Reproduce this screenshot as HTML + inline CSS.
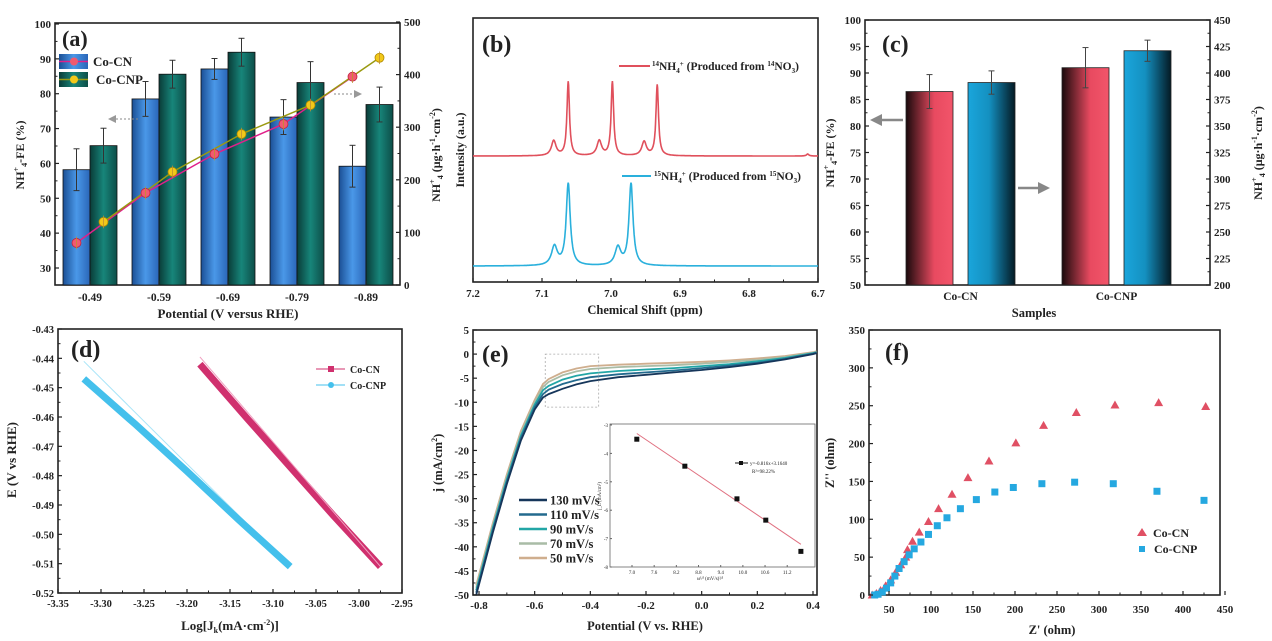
<!DOCTYPE html>
<html><head><meta charset="utf-8"><style>
html,body{margin:0;padding:0;background:#fff}
svg{display:block;font-family:"Liberation Serif",serif;font-weight:bold}
</style></head><body>
<svg id="fig" width="1272" height="641" viewBox="0 0 1272 641" xmlns="http://www.w3.org/2000/svg">
<defs>
<linearGradient id="gBlue" x1="0" x2="1"><stop offset="0" stop-color="#1b4f95"/><stop offset="0.5" stop-color="#4a98e8"/><stop offset="1" stop-color="#2a66b8"/></linearGradient>
<linearGradient id="gTeal" x1="0" x2="1"><stop offset="0" stop-color="#0a3c38"/><stop offset="0.5" stop-color="#17857a"/><stop offset="1" stop-color="#0d4e48"/></linearGradient>
<linearGradient id="gRed" x1="0" x2="1"><stop offset="0" stop-color="#1a0a0c"/><stop offset="0.6" stop-color="#e84a60"/><stop offset="1" stop-color="#f2556a"/></linearGradient>
<linearGradient id="gCyan" x1="0" x2="1"><stop offset="0" stop-color="#1aa6dc"/><stop offset="0.45" stop-color="#1490c0"/><stop offset="1" stop-color="#041a24"/></linearGradient>
</defs>
</svg>
<script>
// ---------- data ----------
const aCats=['-0.49','-0.59','-0.69','-0.79','-0.89'];
const aFeCN=[58.2,78.5,87.1,73.3,59.2];
const aFeCNerr=[6,5,3,5,6];
const aFeCNP=[65.1,85.6,91.9,83.2,76.9];
const aFeCNPerr=[5,4,4,6,5];
const aYieldCN=[80,175,249,306,396];
const aYieldCNP=[120,215,287,342,432];
const aLeftTicks=[30,40,50,60,70,80,90,100];
const aRightTicks=[0,100,200,300,400,500];

const bRedPeaks=[[7.062,74,0.0022],[6.998,74,0.0022],[6.933,71,0.0022],[7.083,15,0.004],[7.017,15,0.004],[6.952,14,0.004],[6.715,2,0.002]];
const bBluePeaks=[[7.062,82,0.0035],[6.971,82,0.0035],[7.082,19,0.005],[6.990,18,0.005]];
const bTicks=[7.2,7.1,7.0,6.9,6.8,6.7];

const cCats=['Co-CN','Co-CNP'];
const cFE=[86.5,91.0];
const cFEerr=[3.2,3.8];
const cYield=[391,421];
const cYieldErr=[11,10];
const cLeftTicks=[50,55,60,65,70,75,80,85,90,95,100];
const cRightTicks=[200,225,250,275,300,325,350,375,400,425,450];

const dCNx=[-3.185,-3.13,-3.08,-3.03,-2.975];
const dCNy=[-0.442,-0.4605,-0.477,-0.4935,-0.511];
const dCNPx=[-3.32,-3.26,-3.2,-3.14,-3.08];
const dCNPy=[-0.447,-0.4625,-0.4785,-0.495,-0.511];
const dXTicks=[-3.35,-3.30,-3.25,-3.20,-3.15,-3.10,-3.05,-3.00,-2.95];
const dYTicks=[-0.43,-0.44,-0.45,-0.46,-0.47,-0.48,-0.49,-0.50,-0.51,-0.52];

const ePot=[-0.81,-0.75,-0.7,-0.65,-0.6,-0.57,-0.55,-0.5,-0.45,-0.4,-0.3,-0.2,-0.1,0,0.1,0.2,0.3,0.4,0.413];
const eJ130=[-50,-37,-27,-18,-11.5,-9,-8.3,-7.2,-6.3,-5.6,-4.8,-4.3,-3.8,-3.3,-2.7,-2.0,-1.1,0,0.2];
const eJ110=[-49.5,-36.5,-26.5,-17.5,-11,-8.3,-7.4,-6.2,-5.4,-4.8,-4.2,-3.8,-3.4,-2.9,-2.4,-1.8,-1.0,0.1,0.3];
const eJ90=[-49,-36,-26,-17,-10.5,-7.5,-6.6,-5.3,-4.5,-4.0,-3.5,-3.2,-2.9,-2.5,-2.1,-1.5,-0.8,0.2,0.4];
const eJ70=[-48.5,-35.5,-25.5,-16.5,-10,-6.8,-5.8,-4.4,-3.6,-3.1,-2.7,-2.5,-2.3,-2.0,-1.6,-1.2,-0.6,0.3,0.5];
const eJ50=[-48,-35,-25,-16,-9.5,-6.2,-5.2,-3.8,-3.0,-2.5,-2.2,-2.0,-1.8,-1.6,-1.3,-0.9,-0.4,0.4,0.6];
const eLabels=['130 mV/s','110 mV/s','90 mV/s','70 mV/s','50 mV/s'];
const eXTicks=[-0.8,-0.6,-0.4,-0.2,0.0,0.2,0.4];
const eYTicks=[5,0,-5,-10,-15,-20,-25,-30,-35,-40,-45,-50];
const insX=[7.13,8.43,9.84,10.62,11.57];
const insY=[-3.5,-4.45,-5.6,-6.35,-7.45];
const insFitX=[7.13,11.57];
const insFitY=[-3.3,-7.2];
const insXTicks=[7.0,7.6,8.2,8.8,9.4,10.0,10.6,11.2];
const insYTicks=[-3,-4,-5,-6,-7,-8];

const fCNx=[30,35,40,46,52,58,64,70,72,78,86,97,109,125,144,169,201,234,273,319,371,427];
const fCNy=[0,2,6,12,20,30,40,50,60,71,83,97,114,133,155,177,201,224,241,251,254,249];
const fCNPx=[33,37,42,47,52,57,62,68,74,80,88,97,107.5,119,135,154,176,198,232,271,317,369,425];
const fCNPy=[0,1,4,9,16,25,35,44,53,61,70,80,91.5,102,114,126,136,142,147,149,147,137,125];
const fXTicks=[50,100,150,200,250,300,350,400,450];
const fYTicks=[0,50,100,150,200,250,300,350];

// ---------- helpers ----------
const NS='http://www.w3.org/2000/svg';
const svg=document.getElementById('fig');
function mk(tag,attrs,parent,text){const e=document.createElementNS(NS,tag);for(const k in attrs)e.setAttribute(k,attrs[k]);if(text!==undefined)e.textContent=text;(parent||svg).appendChild(e);return e;}
function lin(d0,d1,r0,r1){return v=>r0+(v-d0)*(r1-r0)/(d1-d0);}
function grp(name){const g=mk('g',{});return g;}
function box(g,x0,y0,x1,y1){const r=mk('rect',{x:x0,y:y0,width:x1-x0,height:y1-y0,fill:'none',stroke:'#222','stroke-width':1.6},g);}
function txt(g,x,y,s,size,anchor,name,extra){const t=mk('text',Object.assign({x:x,y:y,'font-size':size,'text-anchor':anchor||'middle',fill:'#222'},extra||{}),g,s);return t;}
function rtxt(g,x,y,html,size,name){const t=mk('text',{x:0,y:0,'font-size':size,'text-anchor':'middle',fill:'#222',transform:`translate(${x},${y}) rotate(-90)`},g);t.innerHTML=html;return t;}
function yAxisTicks(g,ticks,sy,x,side,fmt,size,minor){ticks.forEach((v,i)=>{const y=sy(v);mk('line',{x1:x,x2:x+(side==='left'?4:-4),y1:y,y2:y,stroke:'#222','stroke-width':1.2},g);
  txt(g,side==='left'?x-4:x+4,y+4,fmt(v),size,side==='left'?'end':'start','y-tick-label');
  if(minor&&i<ticks.length-1){const ym=(y+sy(ticks[i+1]))/2;mk('line',{x1:x,x2:x+(side==='left'?2.5:-2.5),y1:ym,y2:ym,stroke:'#222','stroke-width':1},g);}});}
function xAxisTicks(g,ticks,sx,y,fmt,size,minor,ly){ticks.forEach((v,i)=>{const x=sx(v);mk('line',{x1:x,x2:x,y1:y,y2:y-4,stroke:'#222','stroke-width':1.2},g);
  txt(g,x,ly,fmt(v),size,'middle','x-tick-label');
  if(minor&&i<ticks.length-1){const xm=(x+sx(ticks[i+1]))/2;mk('line',{x1:xm,x2:xm,y1:y,y2:y-2.5,stroke:'#222','stroke-width':1},g);}});}
function poly(g,xs,ys,sx,sy,attrs,name){const p=xs.map((v,i)=>sx(v).toFixed(1)+','+sy(ys[i]).toFixed(1)).join(' ');const e=mk('polyline',Object.assign({points:p,fill:'none'},attrs),g);return e;}

// ---------- panel a ----------
(function(){
const g=grp('panel-a');
const X0=55,X1=400,Y0=23,Y1=285;
const sy=lin(30,100,268,24), sr=lin(0,500,285,22);
const bw=27, c0=90, step=69;
box(g,X0,Y0,X1,Y1);
aCats.forEach((c,i)=>{const cx=c0+i*step;
  const b1=mk('rect',{x:cx-bw,y:sy(aFeCN[i]),width:bw,height:Y1-sy(aFeCN[i]),fill:'url(#gBlue)',stroke:'#111','stroke-width':0.8},g);
  
  const b2=mk('rect',{x:cx,y:sy(aFeCNP[i]),width:bw,height:Y1-sy(aFeCNP[i]),fill:'url(#gTeal)',stroke:'#111','stroke-width':0.8},g);
  
  [[cx-bw/2,aFeCN[i],aFeCNerr[i]],[cx+bw/2,aFeCNP[i],aFeCNPerr[i]]].forEach(([x,v,e])=>{
    mk('line',{x1:x,x2:x,y1:sy(v+e),y2:sy(v-e),stroke:'#333','stroke-width':1},g);
    mk('line',{x1:x-3,x2:x+3,y1:sy(v+e),y2:sy(v+e),stroke:'#333','stroke-width':1},g);
    mk('line',{x1:x-3,x2:x+3,y1:sy(v-e),y2:sy(v-e),stroke:'#333','stroke-width':1},g);});
});
const xs=aCats.map((c,i)=>i), sxCN=i=>c0+i*step-bw/2, sxCNP=i=>c0+i*step+bw/2;
poly(g,xs,aYieldCN,sxCN,sr,{stroke:'#e0208a','stroke-width':1.5},'line-co-cn-yield');
poly(g,xs,aYieldCNP,sxCNP,sr,{stroke:'#9a9a10','stroke-width':1.5},'line-co-cnp-yield');
xs.forEach(i=>{
  const p=mk('circle',{cx:sxCN(i),cy:sr(aYieldCN[i]),r:4.5,fill:'#f05a70',stroke:'#c02040','stroke-width':0.8},g);
  const q=mk('circle',{cx:sxCNP(i),cy:sr(aYieldCNP[i]),r:4.5,fill:'#f2c81a',stroke:'#b08a00','stroke-width':0.8},g);
  [[sxCN(i),aYieldCN[i]],[sxCNP(i),aYieldCNP[i]]].forEach(([x,v])=>{mk('line',{x1:x,x2:x,y1:sr(v+12),y2:sr(v-12),stroke:'#c09030','stroke-width':0.8},g);});
});
yAxisTicks(g,aLeftTicks,sy,X0,'left',v=>v,11,true);
yAxisTicks(g,aRightTicks,sr,X1,'right',v=>v,11,true);
xAxisTicks(g,aCats.map((c,i)=>i),i=>c0+i*step,Y1,i=>aCats[i],11.5,false,301);
txt(g,228,318,'Potential (V versus RHE)',13,'middle','x-axis-title');
rtxt(g,24,155,'NH<tspan font-size="8" dy="-5">+</tspan><tspan font-size="8" dy="8">4</tspan><tspan dy="-3">-FE (%)</tspan>',12,'y-axis-title-left');
rtxt(g,440,155,'NH<tspan font-size="8" dy="-5">+</tspan><tspan font-size="8" dy="8">4</tspan><tspan dy="-3"> (μg·h</tspan><tspan font-size="8" dy="-5">-1</tspan><tspan dy="5">·cm</tspan><tspan font-size="8" dy="-5">-2</tspan><tspan dy="5">)</tspan>',12,'y-axis-title-right');
txt(g,62,46,'(a)',22,'start','panel-label-a');
// legend
const l1=mk('rect',{x:59,y:54,width:29,height:15,fill:'url(#gBlue)'},g);
mk('line',{x1:59,x2:88,y1:61.5,y2:61.5,stroke:'#e0208a','stroke-width':1.5},g);mk('circle',{cx:74,cy:61.5,r:4,fill:'#f05a70'},g);
txt(g,93,66,'Co-CN',13,'start','legend-co-cn');
const l2=mk('rect',{x:59,y:72,width:29,height:15,fill:'url(#gTeal)'},g);
mk('line',{x1:59,x2:88,y1:79.5,y2:79.5,stroke:'#9a9a10','stroke-width':1.5},g);mk('circle',{cx:74,cy:79.5,r:4,fill:'#f2c81a'},g);
txt(g,96,84,'Co-CNP',13,'start','legend-co-cnp');
mk('line',{x1:112,x2:140,y1:119,y2:119,stroke:'#888','stroke-width':1,'stroke-dasharray':'2,2'},g);
mk('path',{d:'M108 119 L116 115 L116 123 Z',fill:'#999'},g);
mk('line',{x1:334,x2:356,y1:94,y2:94,stroke:'#888','stroke-width':1,'stroke-dasharray':'2,2'},g);
mk('path',{d:'M362 94 L354 90 L354 98 Z',fill:'#999'},g);
})();

// ---------- panel b ----------
(function(){
const g=grp('panel-b');
const X0=473,X1=818,Y0=18,Y1=282;
const sx=lin(7.2,6.7,X0,X1);
box(g,X0,Y0,X1,Y1);
function spec(peaks,base,color,name){const xs=[],ys=[];for(let p=7.2;p>=6.7-1e-9;p-=0.0005){let h=0;peaks.forEach(([c,a,w])=>{h+=a*w*w/((p-c)*(p-c)+w*w);});xs.push(p);ys.push(h);}
  poly(g,xs,ys,sx,v=>base-v,{stroke:color,'stroke-width':1.6},name);}
spec(bRedPeaks,156,'#e0505c','spectrum-14nh4');
spec(bBluePeaks,266,'#2ab0dc','spectrum-15nh4');
xAxisTicks(g,bTicks,sx,Y1,v=>v.toFixed(1),11,true,297);
txt(g,645,314,'Chemical Shift (ppm)',12.5,'middle','x-axis-title');
rtxt(g,464,150,'Intensity (a.u.)',12,'y-axis-title');
txt(g,482,52,'(b)',24,'start','panel-label-b');
mk('line',{x1:619,x2:650,y1:66,y2:66,stroke:'#e0505c','stroke-width':2},g);
const t1=mk('text',{x:652,y:70,'font-size':11.5,fill:'#222'},g);t1.innerHTML='<tspan font-size="7" dy="-4">14</tspan><tspan dy="4">NH</tspan><tspan font-size="7" dy="3">4</tspan><tspan font-size="7" dy="-7">+</tspan><tspan dy="4"> (Produced from </tspan><tspan font-size="7" dy="-4">14</tspan><tspan dy="4">NO</tspan><tspan font-size="7" dy="3">3</tspan><tspan dy="-3">)</tspan>';

mk('line',{x1:622,x2:651,y1:176,y2:176,stroke:'#2ab0dc','stroke-width':2},g);
const t2=mk('text',{x:654,y:180,'font-size':11.5,fill:'#222'},g);t2.innerHTML='<tspan font-size="7" dy="-4">15</tspan><tspan dy="4">NH</tspan><tspan font-size="7" dy="3">4</tspan><tspan font-size="7" dy="-7">+</tspan><tspan dy="4"> (Produced from </tspan><tspan font-size="7" dy="-4">15</tspan><tspan dy="4">NO</tspan><tspan font-size="7" dy="3">3</tspan><tspan dy="-3">)</tspan>';

})();

// ---------- panel c ----------
(function(){
const g=grp('panel-c');
const X0=865,X1=1210,Y0=20,Y1=285;
const sy=lin(50,100,285,20), sr=lin(200,450,285,20);
box(g,X0,Y0,X1,Y1);
const redX=[906,1062], blueX=[968,1124], bw=47;
cCats.forEach((c,i)=>{
  const r=mk('rect',{x:redX[i],y:sy(cFE[i]),width:bw,height:Y1-sy(cFE[i]),fill:'url(#gRed)',stroke:'#222','stroke-width':0.8},g);
  const b=mk('rect',{x:blueX[i],y:sr(cYield[i]),width:bw,height:Y1-sr(cYield[i]),fill:'url(#gCyan)',stroke:'#222','stroke-width':0.8},g);
  [[redX[i]+bw/2,sy(cFE[i]+cFEerr[i]),sy(cFE[i]-cFEerr[i])],[blueX[i]+bw/2,sr(cYield[i]+cYieldErr[i]),sr(cYield[i]-cYieldErr[i])]].forEach(([x,a,b2])=>{
    mk('line',{x1:x,x2:x,y1:a,y2:b2,stroke:'#444','stroke-width':1},g);mk('line',{x1:x-3,x2:x+3,y1:a,y2:a,stroke:'#444'},g);mk('line',{x1:x-3,x2:x+3,y1:b2,y2:b2,stroke:'#444'},g);});
  txt(g,(redX[i]+blueX[i]+bw)/2,300,c,11.5,'middle','x-tick-label');
});
yAxisTicks(g,cLeftTicks,sy,X0,'left',v=>v,11,true);
yAxisTicks(g,cRightTicks,sr,X1,'right',v=>v,11,true);
txt(g,1034,317,'Samples',12.5,'middle','x-axis-title');
rtxt(g,834,153,'NH<tspan font-size="8" dy="-5">+</tspan><tspan font-size="8" dy="8">4</tspan><tspan dy="-3">-FE (%)</tspan>',12,'y-axis-title-left');
rtxt(g,1262,153,'NH<tspan font-size="8" dy="-5">+</tspan><tspan font-size="8" dy="8">4</tspan><tspan dy="-3"> (μg·h</tspan><tspan font-size="8" dy="-5">-1</tspan><tspan dy="5">·cm</tspan><tspan font-size="8" dy="-5">-2</tspan><tspan dy="5">)</tspan>',12,'y-axis-title-right');
txt(g,882,52,'(c)',24,'start','panel-label-c');
mk('line',{x1:880,x2:903,y1:120,y2:120,stroke:'#888','stroke-width':2.5},g);mk('path',{d:'M870 120 L882 114 L882 126 Z',fill:'#888'},g);
mk('line',{x1:1018,x2:1040,y1:188,y2:188,stroke:'#888','stroke-width':2.5},g);mk('path',{d:'M1050 188 L1038 182 L1038 194 Z',fill:'#888'},g);
})();

// ---------- panel d ----------
(function(){
const g=grp('panel-d');
const X0=58,X1=402,Y0=329,Y1=593;
const sx=lin(-3.35,-2.95,X0,X1), sy=lin(-0.43,-0.52,Y0,Y1);
box(g,X0,Y0,X1,Y1);
poly(g,[-3.32,-3.08],[-0.441,-0.511],sx,sy,{stroke:'#a8e4f8','stroke-width':1},'fit-co-cnp');
poly(g,dCNPx,dCNPy,sx,sy,{stroke:'#44c0ec','stroke-width':7},'line-co-cnp');
poly(g,dCNx,dCNy,sx,sy,{stroke:'#d0306e','stroke-width':7},'line-co-cn');
poly(g,[-3.185,-2.975],[-0.4395,-0.511],sx,sy,{stroke:'#f0a0c0','stroke-width':1},'fit-co-cn');
xAxisTicks(g,dXTicks,sx,Y1,v=>v.toFixed(2),10.5,true,607);
yAxisTicks(g,dYTicks,sy,X0,'left',v=>v.toFixed(2),10.5,true);
const tt=mk('text',{x:230,y:630,'font-size':13,'text-anchor':'middle',fill:'#222'},g);tt.innerHTML='Log[J<tspan font-size="8" dy="3">k</tspan><tspan dy="-3">(mA·cm</tspan><tspan font-size="8" dy="-5">-2</tspan><tspan dy="5">)]</tspan>';

rtxt(g,16,460,'E (V vs RHE)',13,'y-axis-title');
txt(g,71,357,'(d)',24,'start','panel-label-d');
mk('line',{x1:316,x2:345,y1:369,y2:369,stroke:'#d0306e','stroke-width':1},g);mk('rect',{x:328,y:366,width:6,height:6,fill:'#d0306e'},g);
txt(g,350,373,'Co-CN',10,'start','legend-co-cn');
mk('line',{x1:316,x2:345,y1:385,y2:385,stroke:'#44c0ec','stroke-width':1},g);mk('circle',{cx:331,cy:385,r:3,fill:'#44c0ec'},g);
txt(g,350,389,'Co-CNP',10,'start','legend-co-cnp');
})();

// ---------- panel e ----------
(function(){
const g=grp('panel-e');
const X0=473,X1=817,Y0=330,Y1=595;
const sx=lin(-0.8,0.4,479,813), sy=lin(5,-50,330,595);
box(g,X0,Y0,X1,Y1);
const series=[eJ130,eJ110,eJ90,eJ70,eJ50], cols=['#16365a','#236a8e','#22a6a6','#a9bca6','#cfae8e'];
for(let k=series.length-1;k>=0;k--){poly(g,ePot,series[k],sx,sy,{stroke:cols[k],'stroke-width':1.8},'curve-'+eLabels[k].replace(/[ \/]/g,'-'));}
const dr=mk('rect',{x:sx(-0.562),y:sy(0),width:sx(-0.37)-sx(-0.562),height:sy(-11)-sy(0),fill:'none',stroke:'#aaa','stroke-width':0.8,'stroke-dasharray':'2,2'},g);

xAxisTicks(g,eXTicks,sx,Y1,v=>v.toFixed(1),11,true,609);
yAxisTicks(g,eYTicks,sy,X0,'left',v=>v,11,true);
txt(g,645,630,'Potential (V vs. RHE)',12.5,'middle','x-axis-title');
rtxt(g,442,463,'j (mA/cm<tspan font-size="8" dy="-5">2</tspan><tspan dy="5">)</tspan>',12.5,'y-axis-title');
txt(g,482,362,'(e)',24,'start','panel-label-e');
eLabels.forEach((l,k)=>{const y=500+k*14.5;mk('line',{x1:519,x2:547,y1:y,y2:y,stroke:cols[k],'stroke-width':2.5},g);txt(g,550,y+4.5,l,12.5,'start','legend-'+l.replace(/[ \/]/g,'-'));});
// inset
const ig=grp('inset-plot');g.appendChild(ig);
const IX0=610,IX1=815,IY0=424,IY1=567;
mk('rect',{x:IX0,y:IY0,width:IX1-IX0,height:IY1-IY0,fill:'#fff',stroke:'#666','stroke-width':0.8},ig);
const isx=lin(7.0,11.6,632,802), isy=lin(-3,-8,425,567);
poly(ig,insFitX,insFitY,isx,isy,{stroke:'#e07080','stroke-width':1},'inset-fit-line');
insX.forEach((v,i)=>{const r=mk('rect',{x:isx(v)-2.5,y:isy(insY[i])-2.5,width:5,height:5,fill:'#111'},ig);});
insXTicks.forEach(v=>{mk('line',{x1:isx(v),x2:isx(v),y1:IY1,y2:IY1-2,stroke:'#666'},ig);txt(ig,isx(v),IY1+7,v.toFixed(1),5,'middle','inset-x-tick',{'font-weight':'normal'});});
insYTicks.forEach(v=>{mk('line',{x1:IX0,x2:IX0+2,y1:isy(v),y2:isy(v),stroke:'#666'},ig);txt(ig,IX0-2,isy(v)+2,v,5,'end','inset-y-tick',{'font-weight':'normal'});});
txt(ig,710,580,'ω\u00b9\u2044\u00b2 (mV/s)\u00b9\u2044\u00b2',5,'middle','inset-x-title',{'font-weight':'normal'});
const iy=mk('text',{x:0,y:0,'font-size':5,'text-anchor':'middle','font-weight':'normal',fill:'#333',transform:'translate(601,496) rotate(-90)'},ig,'j_L (mA/cm²)');
mk('line',{x1:735,x2:748,y1:463,y2:463,stroke:'#111'},ig);mk('rect',{x:739,y:461,width:4,height:4,fill:'#111'},ig);
txt(ig,750,465,'y=-0.816x+3.1640',5,'start','inset-legend-eq',{'font-weight':'normal'});
txt(ig,752,473,'R²=98.22%',5,'start','inset-legend-r2',{'font-weight':'normal'});
})();

// ---------- panel f ----------
(function(){
const g=grp('panel-f');
const X0=869,X1=1220,Y0=330,Y1=595;
const sx=lin(50,450,889,1225), sy=lin(0,350,595,330);
box(g,X0,Y0,X1,Y1);
fCNx.forEach((v,i)=>{const x=sx(v),y=sy(fCNy[i]);const p=mk('path',{d:`M${x} ${y-4.5} L${x+4.5} ${y+3.5} L${x-4.5} ${y+3.5} Z`,fill:'#e05064'},g);});
fCNPx.forEach((v,i)=>{const x=sx(v),y=sy(fCNPy[i]);const p=mk('rect',{x:x-3.5,y:y-3.5,width:7,height:7,fill:'#25a8e0'},g);});
xAxisTicks(g,fXTicks,sx,Y1,v=>v,11,true,613);
yAxisTicks(g,fYTicks,sy,X0,'left',v=>v,11,true);
txt(g,1052,634,"Z' (ohm)",12.5,'middle','x-axis-title');
rtxt(g,834,463,"Z'' (ohm)",12.5,'y-axis-title');
txt(g,885,360,'(f)',24,'start','panel-label-f');
mk('path',{d:'M1142 528 L1147 536 L1137 536 Z',fill:'#e05064'},g);txt(g,1153,537,'Co-CN',12,'start','legend-co-cn');
mk('rect',{x:1139,y:546,width:6,height:6,fill:'#25a8e0'},g);txt(g,1154,553,'Co-CNP',12,'start','legend-co-cnp');
})();
</script>
</body></html>
